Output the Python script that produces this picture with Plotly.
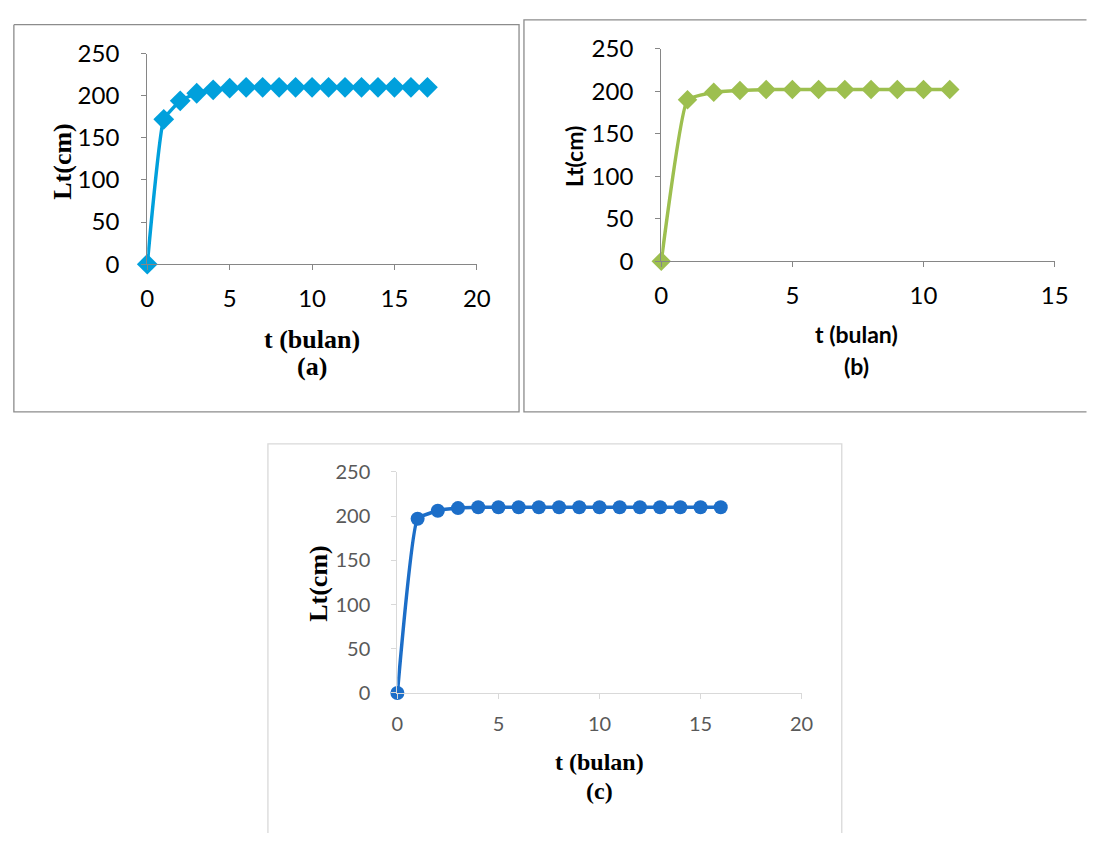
import plotly.graph_objects as go

# ---- data ----
t_a = list(range(0, 18))
lt_a = [0, 172, 194, 203, 207, 209, 210, 210, 210, 210, 210, 210, 210, 210, 210, 210, 210, 210]

t_b = list(range(0, 12))
lt_b = [0, 190, 199, 201, 202, 202, 202, 202, 202, 202, 202, 202]

t_c = list(range(0, 17))
lt_c = [0, 197, 206, 209, 210, 210, 210, 210, 210, 210, 210, 210, 210, 210, 210, 210, 210]

x_ticks_a = [0, 5, 10, 15, 20]
x_ticks_b = [0, 5, 10, 15]
x_ticks_c = [0, 5, 10, 15, 20]
y_ticks = [0, 50, 100, 150, 200, 250]

W, H = 1101, 846
def px(x):
    return x / W
def py(y):
    return 1 - y / H

fig = go.Figure()

fig.add_trace(go.Scatter(x=t_a, y=lt_a, mode="lines+markers", xaxis="x", yaxis="y",
                         line=dict(color="#00A0DC", width=3.5, shape="spline", smoothing=0.35),
                         marker=dict(symbol="diamond", size=16, color="#00A0DC"),
                         cliponaxis=False, showlegend=False))
fig.add_trace(go.Scatter(x=t_b, y=lt_b, mode="lines+markers", xaxis="x2", yaxis="y2",
                         line=dict(color="#9DBF4F", width=3.5, shape="spline", smoothing=0.35),
                         marker=dict(symbol="diamond", size=15, color="#9DBF4F"),
                         cliponaxis=False, showlegend=False))
fig.add_trace(go.Scatter(x=t_c, y=lt_c, mode="lines+markers", xaxis="x3", yaxis="y3",
                         line=dict(color="#1C6EC8", width=3.5, shape="spline", smoothing=0.35),
                         marker=dict(symbol="circle", size=14, color="#1C6EC8"),
                         cliponaxis=False, showlegend=False))

def xa(domain, rng, ticks, anchor, lc, fc, fs):
    return dict(domain=domain, range=rng, tickvals=ticks, anchor=anchor, showgrid=False,
                zeroline=False, showline=True, linecolor=lc, linewidth=1.3, ticks="outside",
                ticklen=5, tickcolor=lc, tickwidth=1.3,
                tickfont=dict(family="Lato", size=fs, color=fc), ticklabelstandoff=8)

def ya(domain, anchor, lc, fc, fs):
    return dict(domain=domain, range=[0, 250], tickvals=y_ticks, anchor=anchor, showgrid=False,
                zeroline=False, showline=True, linecolor=lc, linewidth=1.3, ticks="outside",
                ticklen=5, tickcolor=lc, tickwidth=1.3,
                tickfont=dict(family="Lato", size=fs, color=fc), ticklabelstandoff=17)

fig.update_layout(
    width=W, height=H, autosize=False,
    margin=dict(l=0, r=0, t=0, b=0),
    paper_bgcolor="white", plot_bgcolor="white",
    xaxis=xa([px(143), px(479)], [0, 20], x_ticks_a, "y", "#868686", "black", 24),
    yaxis=ya([py(257), py(39)], "x", "#868686", "black", 24),
    xaxis2=xa([px(667), px(1068)], [0, 15], x_ticks_b, "y2", "#868686", "black", 24),
    yaxis2=ya([py(254), py(34)], "x2", "#868686", "black", 24),
    xaxis3=xa([px(398), px(810)], [0, 20], x_ticks_c, "y3", "#D9D9D9", "#595959", 20),
    yaxis3=ya([py(701), py(472)], "x3", "#D9D9D9", "#595959", 20),
)

# frames (kept inside the canvas; open sides run to the edge)
def path(points):
    return "M " + " L ".join(f"{px(x):.5f},{py(y):.5f}" for x, y in points)

frame_paths = [
    ([(7, 9), (522, 9), (522, 410), (7, 410), (7, 9)], "#8C8C8C"),
    ([(1100.5, 4), (527, 4), (527, 410), (1100.5, 410)], "#8C8C8C"),
    ([(266, 846), (266, 443), (851, 443), (851, 846)], "#D9D9D9"),
]
for pts, c in frame_paths:
    fig.add_shape(type="path", xref="paper", yref="paper", path=path(pts),
                  line=dict(color=c, width=1.3), layer="below")

serif = "Liberation Serif"
sans = "Lato"
annots = [
    ("<b>Lt(cm)</b>", 57, 150, serif, 26, -90),
    ("<b>t (bulan)</b>", 311, 335, serif, 26, 0),
    ("<b>(a)</b>", 311, 363, serif, 26, 0),
    ("<b>Lt(cm)</b>", 578, 145, sans, 23, -90),
    ("<b>t (bulan)</b>", 866, 329, sans, 23, 0),
    ("<b>(b)</b>", 866, 362, sans, 23, 0),
    ("<b>Lt(cm)</b>", 318, 587, serif, 26, -90),
    ("<b>t (bulan)</b>", 604, 772, serif, 24, 0),
    ("<b>(c)</b>", 604, 803, serif, 24, 0),
]
for text, x, y, fam, fs, ang in annots:
    fig.add_annotation(text=text, x=px(x), y=py(y), xref="paper", yref="paper", showarrow=False,
                       xanchor="center", yanchor="middle", textangle=ang,
                       font=dict(family=fam, size=fs, color="black"))

fig.write_html("out.html")
